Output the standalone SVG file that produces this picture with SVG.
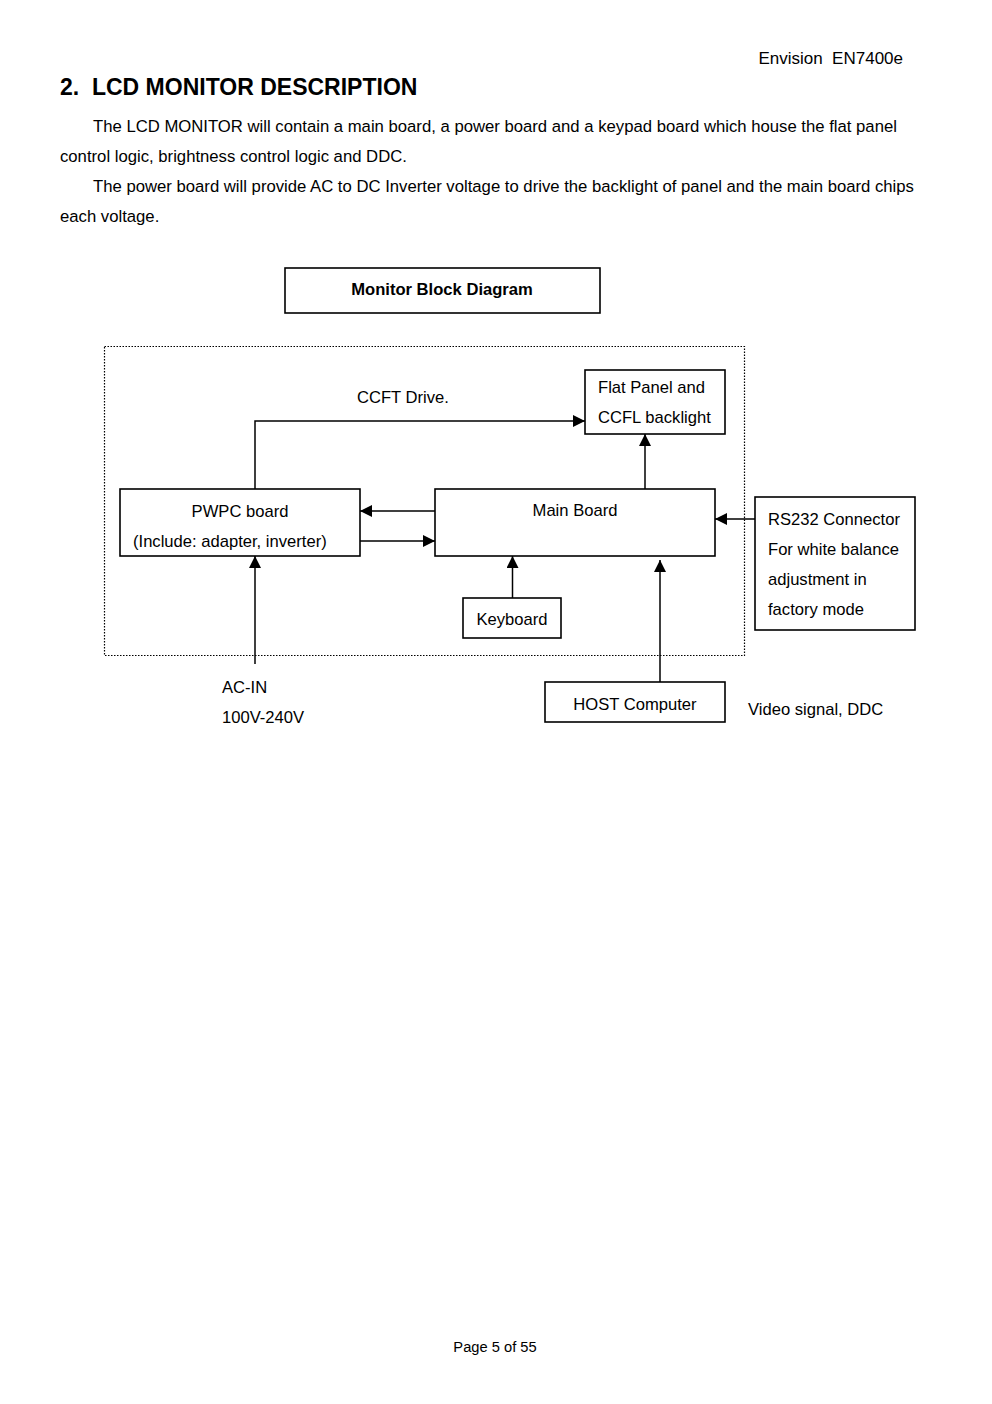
<svg xmlns="http://www.w3.org/2000/svg" width="992" height="1404" viewBox="0 0 992 1404">
<defs>
<marker id="ah" viewBox="0 0 12 12" refX="12" refY="6" markerWidth="12" markerHeight="12" markerUnits="userSpaceOnUse" orient="auto">
<path d="M0,0 L12,6 L0,12 Z" fill="#000"/>
</marker>
</defs>
<style>
text{font-family:"Liberation Sans",Arial,sans-serif;fill:#000}
.p{font-size:16.7px}
.n{font-size:16.6px}
.box{fill:#fff;stroke:#000;stroke-width:1.6}
.ca{fill:none;stroke:#000;stroke-width:1.5;marker-end:url(#ah)}
</style>
<rect width="992" height="1404" fill="#fff"/>
<text x="903" y="64" font-size="17" text-anchor="end" xml:space="preserve">Envision  EN7400e</text>
<text x="60" y="95" font-size="23" font-weight="bold" xml:space="preserve">2.  LCD MONITOR DESCRIPTION</text>
<text class="p" x="93" y="132">The LCD MONITOR will contain a main board, a power board and a keypad board which house the flat panel</text>
<text class="p" x="60" y="162">control logic, brightness control logic and DDC.</text>
<text class="p" x="93" y="192">The power board will provide AC to DC Inverter voltage to drive the backlight of panel and the main board chips</text>
<text class="p" x="60" y="222">each voltage.</text>

<g id="title">
<rect class="box" x="285" y="268" width="315" height="45" stroke-width="1"/>
<text x="442" y="295" font-size="16.6" font-weight="bold" text-anchor="middle">Monitor Block Diagram</text>
</g>

<g id="monitor-boundary">
<rect x="104.5" y="346.5" width="640" height="309" fill="none" stroke="#000" stroke-width="1.2" stroke-dasharray="1.5,1.5"/>
</g>

<g id="connectors">
<path class="ca" d="M255,489 V421 H585"/>
<path class="ca" d="M645,489 V434"/>
<path class="ca" d="M435,511 H360"/>
<path class="ca" d="M360,541 H435"/>
<path class="ca" d="M755,519 H715"/>
<path class="ca" d="M512.5,598 V556"/>
<path class="ca" d="M255,664 V556"/>
<path class="ca" d="M660,682 V560"/>
</g>

<g id="flat-panel">
<rect class="box" x="585" y="370" width="140" height="64"/>
<text class="n" x="598" y="393">Flat Panel and</text>
<text class="n" x="598" y="423">CCFL backlight</text>
</g>
<g id="pwpc">
<rect class="box" x="120" y="489" width="240" height="67"/>
<text class="n" x="240" y="517" text-anchor="middle">PWPC board</text>
<text class="n" x="133" y="547">(Include: adapter, inverter)</text>
</g>
<g id="main-board">
<rect class="box" x="435" y="489" width="280" height="67"/>
<text class="n" x="575" y="516" text-anchor="middle">Main Board</text>
</g>
<g id="keyboard">
<rect class="box" x="463" y="598" width="98" height="40"/>
<text class="n" x="512" y="625" text-anchor="middle">Keyboard</text>
</g>
<g id="rs232">
<rect class="box" x="755" y="497" width="160" height="133"/>
<text class="n" x="768" y="525">RS232 Connector</text>
<text class="n" x="768" y="555">For white balance</text>
<text class="n" x="768" y="585">adjustment in</text>
<text class="n" x="768" y="615">factory mode</text>
</g>
<g id="host">
<rect class="box" x="545" y="682" width="180" height="40"/>
<text class="n" x="635" y="710" text-anchor="middle">HOST Computer</text>
</g>
<g id="labels">
<text class="n" x="357" y="403">CCFT Drive.</text>
<text class="n" x="222" y="693">AC-IN</text>
<text class="n" x="222" y="723">100V-240V</text>
<text class="n" x="748" y="715">Video signal, DDC</text>
</g>
<text x="495" y="1352" font-size="14.7" text-anchor="middle">Page 5 of 55</text>
</svg>
